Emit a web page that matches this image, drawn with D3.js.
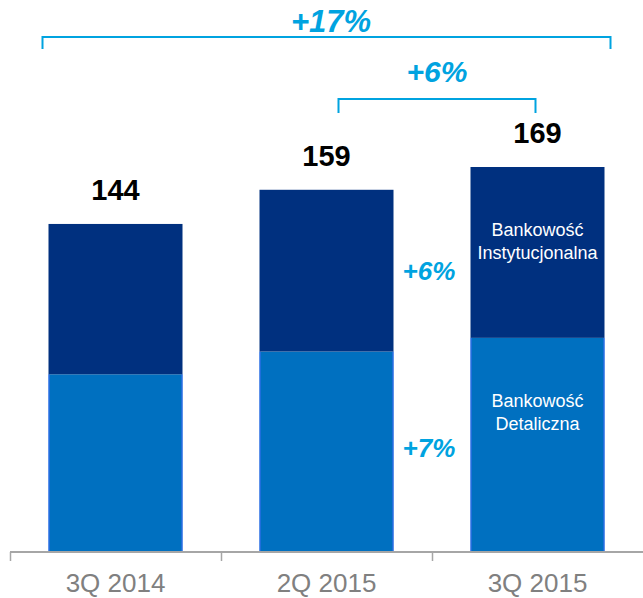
<!DOCTYPE html>
<html>
<head>
<meta charset="utf-8">
<script src="https://cdn.jsdelivr.net/npm/d3@7/dist/d3.min.js"></script>
<style>
  body { margin: 0; background: #fff; }
  svg { display: block; font-family: "Liberation Sans", Arial, sans-serif; }
</style>
</head>
<body>
<div id="viz"></div>
<script>
var w = 643;
var h = 598;

// data
var quarters = ["3Q 2014", "2Q 2015", "3Q 2015"];
var retail = [78, 88, 94];          // Bankowość Detaliczna
var institutional = [66, 71, 75];   // Bankowość Instytucjonalna
var totals = [144, 159, 169];
var segNames = ["Bankowość Detaliczna", "Bankowość Instytucjonalna"];
var growthBig = "+17%";
var growthSmall = "+6%";
var growthInst = "+6%";
var growthRetail = "+7%";

var cyan = "#00a3e0";

var svg = d3.select("#viz")
    .append("svg")
    .attr("width", w)
    .attr("height", h);

var x = d3.scaleBand()
    .domain(quarters)
    .range([10, 643])
    .paddingInner(0)
    .paddingOuter(0);

var barW = 134;
var y = d3.scaleLinear()
    .domain([0, 169])
    .range([552, 167]);

function barLeft(q) { return x(q) + (x.bandwidth() - barW) / 2; }
function mid(q) { return x(q) + x.bandwidth() / 2; }

var rows = quarters.map(function(q, i) {
    return { q: q, retail: retail[i], inst: institutional[i], total: totals[i] };
});

// bottom segment
svg.selectAll("rect.retail")
    .data(rows)
    .enter()
    .append("rect")
    .attr("class", "retail")
    .attr("x", function(d) { return barLeft(d.q); })
    .attr("y", function(d) { return y(d.retail); })
    .attr("width", barW)
    .attr("height", function(d) { return y(0) - y(d.retail); })
    .attr("fill", "#0070c0");

// thin bright edges on the retail segment
svg.selectAll("path.edge")
    .data(rows)
    .enter()
    .append("path")
    .attr("class", "edge")
    .attr("d", function(d) {
        var l = barLeft(d.q) + 0.5, r = barLeft(d.q) + barW - 0.5;
        return "M" + l + "," + y(d.retail) + "V" + y(0) + "M" + r + "," + y(d.retail) + "V" + y(0);
    })
    .attr("stroke", "#3f6cf5")
    .attr("stroke-width", 1)
    .attr("fill", "none");

// top segment
svg.selectAll("rect.inst")
    .data(rows)
    .enter()
    .append("rect")
    .attr("class", "inst")
    .attr("x", function(d) { return barLeft(d.q); })
    .attr("y", function(d) { return y(d.retail + d.inst); })
    .attr("width", barW)
    .attr("height", function(d) { return y(d.retail) - y(d.retail + d.inst); })
    .attr("fill", "#00307f");

// totals
svg.selectAll("text.total")
    .data(rows)
    .enter()
    .append("text")
    .attr("class", "total")
    .attr("x", function(d) { return mid(d.q); })
    .attr("y", function(d) { return y(d.total) - 24; })
    .attr("text-anchor", "middle")
    .attr("font-size", 29)
    .attr("font-weight", "bold")
    .attr("fill", "#000")
    .text(function(d) { return d.total; });

// axis
var axisY = y(0);
svg.append("line")
    .attr("x1", 10).attr("x2", 643)
    .attr("y1", axisY).attr("y2", axisY)
    .attr("stroke", "#a6a6a6")
    .attr("stroke-width", 2);

svg.selectAll("line.tick")
    .data(quarters)
    .enter()
    .append("line")
    .attr("class", "tick")
    .attr("x1", function(d) { return x(d) + 0.5; })
    .attr("x2", function(d) { return x(d) + 0.5; })
    .attr("y1", axisY)
    .attr("y2", axisY + 9)
    .attr("stroke", "#a6a6a6")
    .attr("stroke-width", 1.5);

svg.selectAll("text.cat")
    .data(quarters)
    .enter()
    .append("text")
    .attr("class", "cat")
    .attr("x", function(d) { return mid(d); })
    .attr("y", 592)
    .attr("text-anchor", "middle")
    .attr("font-size", 26)
    .attr("fill", "#808080")
    .text(function(d) { return d; });

// segment names inside the last bar
var last = rows[rows.length - 1];
var segLabels = [
    { lines: segNames[1].split(" "), top: y(last.retail + last.inst) },
    { lines: segNames[0].split(" "), top: y(last.retail) }
];
segLabels.forEach(function(s) {
    var t = svg.append("text")
        .attr("x", mid(last.q))
        .attr("y", s.top + 69)
        .attr("text-anchor", "middle")
        .attr("font-size", 18)
        .attr("fill", "#fff");
    s.lines.forEach(function(line, i) {
        t.append("tspan")
            .attr("x", mid(last.q))
            .attr("dy", i === 0 ? 0 : 23)
            .text(line);
    });
});

// brackets
function bracket(x1, x2, yy, leg) {
    svg.append("path")
        .attr("d", "M" + x1 + "," + (yy + leg) + "V" + yy + "H" + x2 + "V" + (yy + leg))
        .attr("fill", "none")
        .attr("stroke", cyan)
        .attr("stroke-width", 2);
}
bracket(barLeft(quarters[0]) - 6, barLeft(quarters[2]) + barW + 6, 37, 12);
bracket(mid(quarters[1]) + 12, mid(quarters[2]) - 2, 99, 14);

function growth(txt, cx, by, size) {
    svg.append("text")
        .attr("x", cx)
        .attr("y", by)
        .attr("text-anchor", "middle")
        .attr("font-size", size)
        .attr("font-weight", "bold")
        .attr("font-style", "italic")
        .attr("fill", cyan)
        .text(txt);
}
growth(growthBig, 331, 32, 31);
growth(growthSmall, (mid(quarters[1]) + 12 + mid(quarters[2]) - 2) / 2, 82, 30);

// segment growth between bar 2 and bar 3
var gapX = (barLeft(quarters[1]) + barW + barLeft(quarters[2])) / 2 - 3;
var b2 = rows[1];
growth(growthInst, gapX, (y(b2.retail) + y(b2.retail + b2.inst)) / 2 + 9, 26);
growth(growthRetail, gapX, (y(0) + y(b2.retail)) / 2 + 5, 26);
</script>
</body>
</html>
